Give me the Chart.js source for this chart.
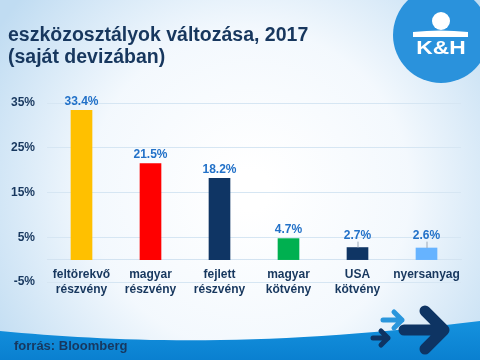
<!DOCTYPE html>
<html>
<head>
<meta charset="utf-8">
<script src="https://cdn.jsdelivr.net/npm/chart.js@4"></script>
<style>
html, body { margin: 0; padding: 0; }
#wrap { width: 480px; height: 360px; }
</style>
</head>
<body>
<div id="wrap"><canvas id="chart" width="480" height="360"></canvas></div>
<script>
// data
var categories = [["feltörekvő", "részvény"], ["magyar", "részvény"], ["fejlett", "részvény"], ["magyar", "kötvény"], ["USA", "kötvény"], "nyersanyag"];
var changes = [33.4, 21.5, 18.2, 4.7, 2.7, 2.6];
var barColors = ["#FFC000", "#FF0000", "#0F3564", "#00B050", "#0F3564", "#66B3FF"];
var yTicks = [-5, 5, 15, 25, 35];
var titleLines = ["eszközosztályok változása, 2017", "(saját devizában)"];
var source = "forrás: Bloomberg";

var FONT = "'Liberation Sans', Arial, sans-serif";
var NAVY = "#17375E";

// slide background, bottom wave, logo, arrows
var slideDeco = {
    id: 'slideDeco',
    beforeDraw: function(chart) {
        var ctx = chart.ctx, w = chart.width, h = chart.height;
        ctx.save();
        ctx.fillStyle = "#C0DCF2";
        ctx.fillRect(0, 0, w, h);
        var g = ctx.createRadialGradient(250, 190, 20, 250, 190, 300);
        g.addColorStop(0, "rgba(255,255,255,1)");
        g.addColorStop(0.5, "rgba(246,250,254,0.95)");
        g.addColorStop(1, "rgba(246,250,254,0)");
        ctx.fillStyle = g;
        ctx.fillRect(0, 0, w, h);

        // wave band
        var bg = ctx.createLinearGradient(0, 320, 0, 360);
        bg.addColorStop(0, "#1592DE");
        bg.addColorStop(1, "#0A80D0");
        ctx.fillStyle = bg;
        ctx.beginPath();
        ctx.moveTo(0, 331);
        ctx.bezierCurveTo(120, 342, 260, 348, 480, 321);
        ctx.lineTo(480, 360);
        ctx.lineTo(0, 360);
        ctx.closePath();
        ctx.fill();

        // logo
        ctx.fillStyle = "#2A92DC";
        ctx.beginPath();
        ctx.arc(441, 35, 48, 0, Math.PI * 2);
        ctx.fill();
        ctx.fillStyle = "#FFFFFF";
        ctx.beginPath();
        ctx.arc(441, 21, 9, 0, Math.PI * 2);
        ctx.fill();
        ctx.beginPath();
        ctx.moveTo(413, 32);
        ctx.quadraticCurveTo(440, 29, 468, 32);
        ctx.lineTo(468, 37);
        ctx.lineTo(413, 37);
        ctx.closePath();
        ctx.fill();
        ctx.save();
        ctx.translate(441, 49);
        ctx.scale(1.2, 1);
        ctx.font = "bold 19px " + FONT;
        ctx.textAlign = "center";
        ctx.textBaseline = "middle";
        ctx.fillText("K&H", 0, 0);
        ctx.restore();

        // arrows
        function arrow(x1, x2, y, head, lw, color) {
            ctx.strokeStyle = color;
            ctx.lineWidth = lw;
            ctx.lineCap = "round";
            ctx.lineJoin = "round";
            ctx.beginPath();
            ctx.moveTo(x1, y);
            ctx.lineTo(x2, y);
            ctx.moveTo(x2 - head, y - head);
            ctx.lineTo(x2, y);
            ctx.lineTo(x2 - head, y + head);
            ctx.stroke();
        }
        arrow(383, 402, 320, 8, 5, "#2A96DC");
        arrow(373, 388, 338, 7, 5, "#0E3463");
        arrow(404, 444, 330, 19, 11, "#0E3463");

        // source
        ctx.fillStyle = NAVY;
        ctx.font = "bold 13px " + FONT;
        ctx.textAlign = "left";
        ctx.fillText(source, 14, 350);
        ctx.restore();
    },
    afterDatasetsDraw: function(chart) {
        var ctx = chart.ctx;
        var base = chart.scales.y.getPixelForValue(0);
        ctx.save();
        ctx.font = "bold 12px " + FONT;
        ctx.fillStyle = "#2271C8";
        ctx.textAlign = "center";
        ctx.textBaseline = "middle";
        chart.getDatasetMeta(0).data.forEach(function(bar, i) {
            var ly = Math.min(bar.y - 9, base - 24);
            if (bar.y - ly > 10) {
                ctx.strokeStyle = "#9AA8B8";
                ctx.lineWidth = 1;
                ctx.beginPath();
                ctx.moveTo(bar.x + 0.5, ly + 6);
                ctx.lineTo(bar.x + 0.5, bar.y);
                ctx.stroke();
            }
            ctx.fillText(changes[i].toFixed(1) + "%", bar.x, ly);
        });
        ctx.restore();
    }
};

new Chart(document.getElementById("chart"), {
    type: 'bar',
    data: {
        labels: categories,
        datasets: [{
            data: changes,
            backgroundColor: barColors,
            barThickness: 21
        }]
    },
    options: {
        responsive: false,
        animation: false,
        layout: { padding: { left: 8, right: 19, bottom: 78 } },
        plugins: {
            legend: { display: false },
            tooltip: { enabled: false },
            title: {
                display: true,
                text: titleLines,
                align: 'start',
                color: NAVY,
                font: { family: FONT, size: 19.5, weight: 'bold', lineHeight: 1.13 },
                padding: { top: 25, bottom: 34 }
            }
        },
        scales: {
            x: {
                position: { y: 0 },
                grid: { display: false, drawTicks: false },
                border: { display: true, color: "#D3E3F1", width: 1 },
                ticks: {
                    color: NAVY,
                    padding: 7,
                    maxRotation: 0,
                    minRotation: 0,
                    autoSkip: false,
                    font: { family: FONT, size: 12, weight: 'bold', lineHeight: 1.3 }
                }
            },
            y: {
                min: -5,
                max: 35,
                afterBuildTicks: function(scale) {
                    scale.ticks = yTicks.map(function(v) { return { value: v }; });
                },
                afterFit: function(scale) { scale.width = 39; },
                grid: { color: "#D6E6F3", drawTicks: false },
                border: { display: false },
                ticks: {
                    color: NAVY,
                    padding: 12,
                    font: { family: FONT, size: 12, weight: 'bold' },
                    callback: function(v) { return v + "%"; }
                }
            }
        }
    },
    plugins: [slideDeco]
});
</script>
</body>
</html>
